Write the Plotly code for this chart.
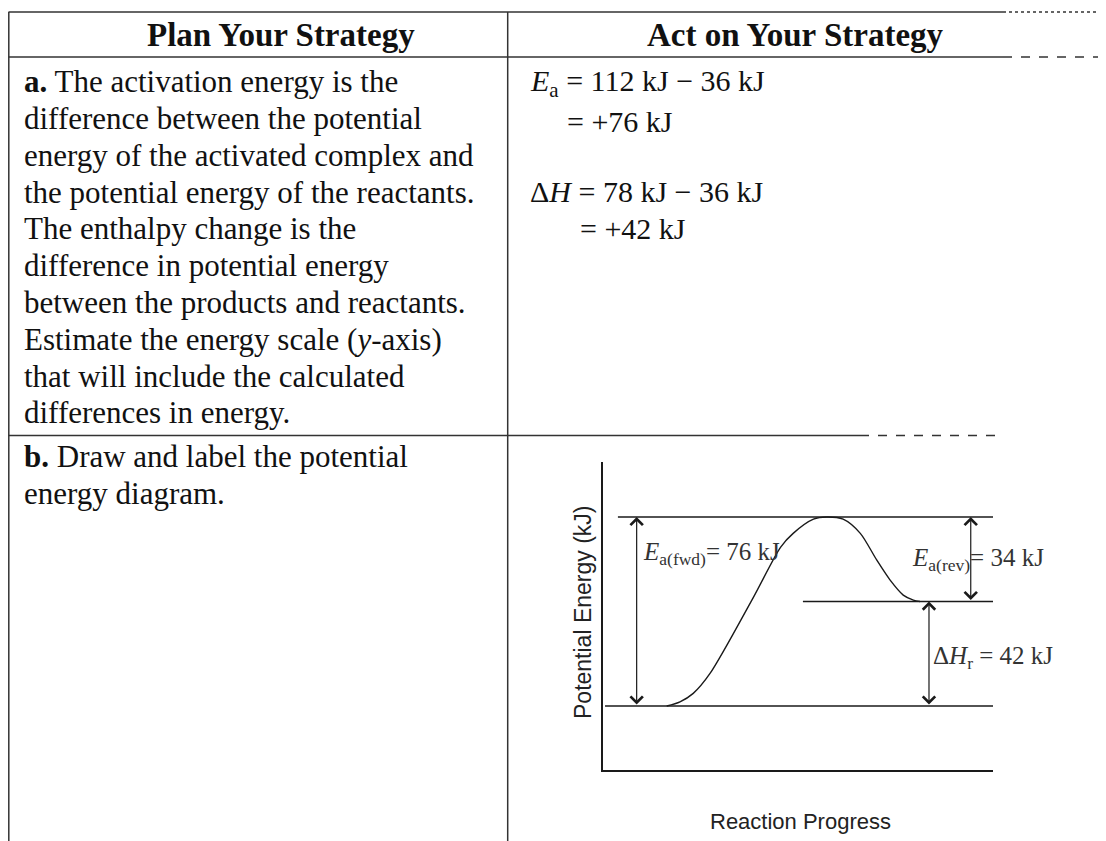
import plotly.graph_objects as go

# page is 1106x841; the html body adds an 8px margin, so the figure is a bit smaller
PAGE_W, PAGE_H = 1106, 841
PAD = 8
W, H = PAGE_W - PAD, PAGE_H - PAD

# table text
header_left = 'Plan Your Strategy'
header_right = 'Act on Your Strategy'
row_a_left = [
    '<b>a.</b> The activation energy is the',
    'difference between the potential',
    'energy of the activated complex and',
    'the potential energy of the reactants.',
    'The enthalpy change is the',
    'difference in potential energy',
    'between the products and reactants.',
    'Estimate the energy scale (<i>y</i>-axis)',
    'that will include the calculated',
    'differences in energy.',
]
row_a_right = [
    '<i>E</i><sub>a</sub> = 112 kJ \u2212 36 kJ',
    '= +76 kJ',
    '\u0394<i>H</i> = 78 kJ \u2212 36 kJ',
    '= +42 kJ',
]
row_b_left = ['<b>b.</b> Draw and label the potential', 'energy diagram.']

# diagram values (kJ)
e_reactants = 36
e_complex = 112
e_products = 78
ea_fwd = e_complex - e_reactants
ea_rev = e_complex - e_products
dh = e_products - e_reactants

# energy levels: reactants, activated complex, products
level_y = [e_reactants, e_complex, e_products]
level_x0 = [0.6, 3.9, 51.3]
level_x1 = [100, 100, 100]

# reaction curve
curve_x = [16.4, 19.8, 23.2, 27.5, 38.5, 45.6, 48.8, 54.0, 57.4, 61.6, 66.0, 70.2, 73.6, 77.0, 79.6, 81.3]
curve_y = [36, 37.7, 41.1, 49.1, 79.4, 99.9, 105.4, 111.1, 112, 111.1, 105.4, 94.7, 86.7, 80.6, 78.6, 78]


def px(x):
    return (x - PAD) / W


def py(y):
    return 1 - (y - PAD) / H


serif = 'Liberation Serif'
sans = 'Liberation Sans'
ink = '#111'

fig = go.Figure()

for x0, x1, y in zip(level_x0, level_x1, level_y):
    fig.add_trace(go.Scatter(x=[x0, x1], y=[y, y], mode='lines',
                             line=dict(color='#1a1a1a', width=1.6),
                             hoverinfo='skip', showlegend=False))

fig.add_trace(go.Scatter(x=curve_x, y=curve_y, mode='lines',
                         line=dict(color='#1a1a1a', width=1.4, shape='spline', smoothing=0.8),
                         hoverinfo='skip', showlegend=False))

# table lines
shapes = []


def hline(y, x0, x1, dash='solid'):
    shapes.append(dict(type='line', xref='paper', yref='paper',
                       x0=px(x0), x1=px(x1), y0=py(y), y1=py(y),
                       line=dict(color='#333', width=1.5, dash=dash)))


def vline(x, y0, y1):
    shapes.append(dict(type='line', xref='paper', yref='paper',
                       x0=px(x), x1=px(x), y0=py(y0), y1=py(y1),
                       line=dict(color='#333', width=1.5)))


hline(12, 8.5, 1003)
hline(12, 1003, 1104, 'dot')
hline(57, 8.5, 1003)
hline(57, 1003, 1100, 'dash')
hline(435.5, 8.5, 860)
hline(435.5, 860, 1000, 'dash')
vline(8.8, 12, 841)
vline(507.7, 12, 841)

ann = []


def text(x, y, s, size=30, xanchor='left', font=serif, color=ink, **kw):
    ann.append(dict(x=px(x), y=py(y), xref='paper', yref='paper', text=s,
                    showarrow=False, xanchor=xanchor, yanchor='middle',
                    font=dict(family=font, size=size, color=color), align='left', **kw))


text(281, 35, '<b>' + header_left + '</b>', size=33, xanchor='center')
text(796, 35, '<b>' + header_right + '</b>', size=33, xanchor='center')
for k, line in enumerate(row_a_left):
    text(22, 81.7 + 36.8 * k, line, size=31)
text(528, 83, row_a_right[0])
text(565, 121, row_a_right[1])
text(528, 192, row_a_right[2])
text(578, 228, row_a_right[3])
for k, line in enumerate(row_b_left):
    text(22, 456.7 + 36.5 * k, line, size=31)

# axis titles
text(583, 613, 'Potential Energy (kJ)', size=23, xanchor='center', font=sans, color='#222', textangle=-90)
text(800, 821.7, 'Reaction Progress', size=22, xanchor='center', font=sans, color='#222')

# double-headed arrows
for x, y0, y1 in [(8.7, e_reactants, e_complex), (83.6, e_reactants, e_products), (94.3, e_products, e_complex)]:
    ann.append(dict(x=x, y=y1, ax=x, ay=y0, xref='x', yref='y', axref='x', ayref='y',
                    showarrow=True, arrowside='end+start', arrowhead=4, arrowsize=2.0,
                    arrowwidth=1.2, arrowcolor='#1a1a1a', standoff=0, startstandoff=0, text=''))

# diagram labels
lab = dict(xref='x', yref='y', showarrow=False, xanchor='left', yanchor='middle',
           font=dict(family=serif, size=25, color='#333'))
ann.append(dict(lab, x=9.7, y=97.5, text='<i>E</i><sub>a(fwd)</sub>= %d kJ' % ea_fwd))
ann.append(dict(lab, x=78.7, y=94.7, text='<i>E</i><sub>a(rev)</sub>= %d kJ' % ea_rev))
ann.append(dict(lab, x=84.1, y=55.7, text='\u0394<i>H</i><sub>r</sub> = %d kJ' % dh))

fig.update_layout(
    width=W,
    height=H,
    margin=dict(l=0, r=0, t=0, b=0),
    paper_bgcolor='white',
    plot_bgcolor='white',
    showlegend=False,
    shapes=shapes,
    annotations=ann,
    xaxis=dict(domain=[px(602.7), px(993)], range=[0, 100], showline=True,
               linecolor='#1a1a1a', linewidth=2, showgrid=False, zeroline=False,
               showticklabels=False, ticks='', fixedrange=True),
    yaxis=dict(domain=[py(770), py(461.7)], range=[10.3, 134.2], showline=True,
               linecolor='#1a1a1a', linewidth=2, showgrid=False, zeroline=False,
               showticklabels=False, ticks='', fixedrange=True),
)

fig.write_html('out.html')
